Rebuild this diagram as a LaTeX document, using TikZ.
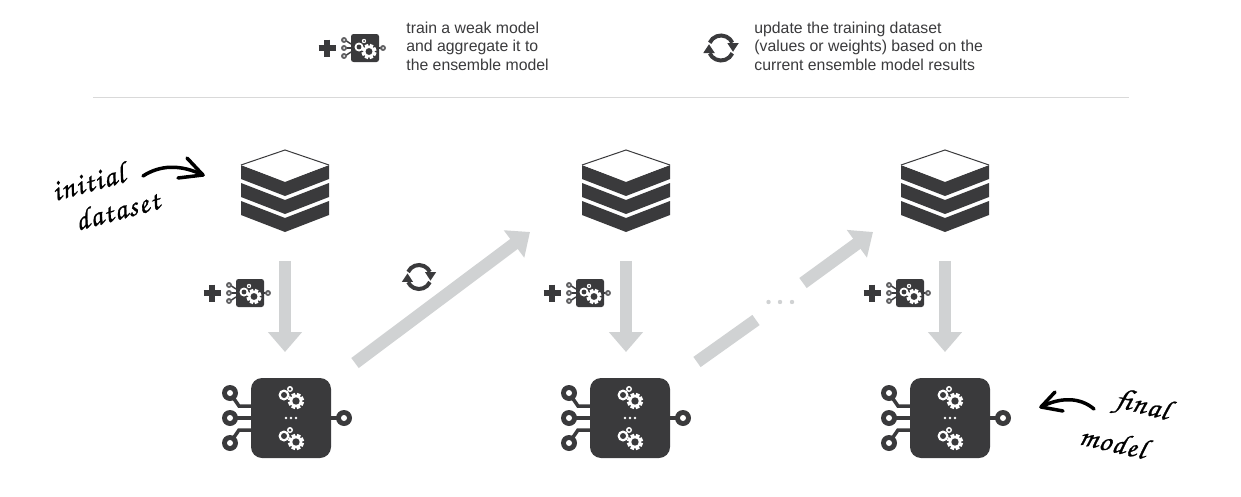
\documentclass[tikz,border=0pt]{standalone}
\usepackage{fontspec}
\setmainfont{Liberation Sans}
\newfontfamily\handfont[FakeBold=0.8,LetterSpace=5]{TeX Gyre Chorus}
\usetikzlibrary{arrows.meta}
\definecolor{darkicon}{HTML}{3A3A3C}
\definecolor{flowgray}{HTML}{D0D2D3}
\tikzset{
  flow/.style={draw=flowgray,line width=0.25cm,-{Triangle[length=0.4cm,width=0.66cm]}},
  flowplain/.style={draw=flowgray,line width=0.25cm},
  hand/.style={font=\handfont\fontsize{17}{17}\selectfont,text=black,inner sep=0pt},
  handline/.style={line width=0.07cm,line cap=round,line join=round},
  note/.style={font=\fontsize{9}{10.5}\selectfont,text=darkicon,align=left,anchor=north west,inner sep=0pt},
  spot/.style={inner sep=0pt,outer sep=0pt,minimum width=1.6cm,minimum height=1.6cm},
  pics/cog/.style={code={
    \fill[white] (0,0) circle (#1*0.76);
    \foreach \a in {0,45,...,315}
      \fill[white,rotate=\a+22] (#1*0.6,-#1*0.24) rectangle (#1,#1*0.24);
    \fill[darkicon] (0,0) circle (#1*0.46);
  }},
  pics/layer/.style={code={
    \fill[darkicon] (-44,0)--(0,17)--(44,0)--(44,14)--(0,31)--(-44,14)--cycle;
  }},
  pics/datastack/.style={code={
    \pic at (0,-25) {layer};
    \pic at (0,-7) {layer};
    \pic at (0,11) {layer};
    \fill[white] (0,-40)--(-44,-25)--(0,-9)--(44,-25)--cycle;
    \draw[darkicon,line width=0.02cm] (-44,-25)--(0,-40)--(44,-25);
  }},
  pics/bigmodel/.style={code={
    \foreach \y/\b in {-25/-12,0/0,25/12}
      \draw[darkicon,line width=0.07cm] (-61,\y)--(-52,\b)--(-40,\b);
    \draw[darkicon,line width=0.07cm] (40,0)--(50,0);
    \foreach \x/\y in {-61/-25,-61/0,-61/25,53/0}{
      \fill[darkicon] (\x,\y) circle (8);
      \fill[white] (\x,\y) circle (3);
    }
    \fill[darkicon,rounded corners=0.22cm] (-40,-40) rectangle (40,40);
    \foreach \y in {-20,21}{
      \fill[white] (-7,\y-3) circle (5.5);
      \fill[darkicon] (-7,\y-3) circle (3);
      \fill[white] (-1,\y-9) circle (3);
      \fill[darkicon] (-1,\y-9) circle (1.5);
      \pic at (5,\y+3) {cog=8};
    }
    \foreach \x in {-5,0,5}
      \fill[white] (\x,0) circle (1.4);
  }},
  pics/addmodel/.style={code={
    \draw[darkicon,line width=0.11cm] (-46.5,0)--(-29.5,0) (-38,-8.5)--(-38,8.5);
    \foreach \y/\b in {-8/-4,0/0,8/4}
      \draw[darkicon,line width=0.03cm] (-20,\y)--(-14,\b);
    \draw[darkicon,line width=0.03cm] (13,0)--(17,0);
    \foreach \x/\y in {-21/-8,-21/0,-21/8,18/0}{
      \fill[darkicon!80] (\x,\y) circle (3);
      \fill[white] (\x,\y) circle (1);
    }
    \fill[darkicon,rounded corners=0.05cm] (-14,-14) rectangle (14,14);
    \fill[white] (-6,-1) circle (4.5);
    \fill[darkicon] (-6,-1) circle (2.4);
    \fill[white] (-1,-7) circle (2.2);
    \fill[darkicon] (-1,-7) circle (1);
    \pic at (4,3.5) {cog=7.5};
  }},
  pics/syncmark/.style={code={
    \draw[darkicon,line width=0.08cm] (#1*-0.906,#1*-0.423) arc[start angle=205,end angle=335,radius=#1];
    \draw[darkicon,line width=0.08cm] (#1*0.906,#1*0.423) arc[start angle=25,end angle=155,radius=#1];
    \fill[darkicon] (#1*0.5,#1*-0.4)--(#1*1.42,#1*-0.4)--(#1*0.96,#1*0.3)--cycle;
    \fill[darkicon] (#1*-0.5,#1*0.4)--(#1*-1.42,#1*0.4)--(#1*-0.96,#1*-0.3)--cycle;
  }}
}
\begin{document}
\begin{tikzpicture}[x=0.02cm,y=-0.02cm]
\useasboundingbox (0,0) rectangle (1241,497);
% legend
\pic at (365,48) {addmodel};
\node[note] (noteA) at (406,21.5) {train a weak model\\and aggregate it to\\the ensemble model};
\pic at (721,48) {syncmark=12.5};
\node[note] (noteB) at (754,21.5) {update the training dataset\\(values or weights) based on the\\current ensemble model results};
\draw[black!15,line width=0.02cm] (93,97) -- (1129,97);

% datasets and models
\node[spot] (dataA) at (285,190) {};
\node[spot] (dataB) at (626,190) {};
\node[spot] (dataC) at (945,190) {};
\node[spot] (modelA) at (291,418) {};
\node[spot] (modelB) at (630,418) {};
\node[spot] (modelC) at (950,418) {};
\pic at (dataA) {datastack};
\pic at (dataB) {datastack};
\pic at (dataC) {datastack};
\pic at (modelA) {bigmodel};
\pic at (modelB) {bigmodel};
\pic at (modelC) {bigmodel};

% arrows
\coordinate (fromA) at (355,363);
\coordinate (toB) at (530,232);
\coordinate (fromB) at (697,362);
\coordinate (gapA) at (756,320);
\coordinate (gapB) at (803,283);
\coordinate (toC) at (873,232);
\draw[flow,shorten <=0.62cm,shorten >=0.52cm] (dataA.south) -- (dataA.center |- modelA.north);
\draw[flow,shorten <=0.62cm,shorten >=0.52cm] (dataB.south) -- (dataB.center |- modelB.north);
\draw[flow,shorten <=0.62cm,shorten >=0.52cm] (dataC.south) -- (dataC.center |- modelC.north);
\draw[flow] (fromA) -- (toB);
\draw[flowplain] (fromB) -- (gapA);
\draw[flow] (gapB) -- (toC);
\foreach \x in {768.5,780,792}
  \fill[flowgray] (\x,302) circle (2.2);

% small icons
\pic at (250,293) {addmodel};
\pic at (590,293) {addmodel};
\pic at (910,293) {addmodel};
\pic at (419,277) {syncmark=12};

% hand notes
\node[hand,rotate=15] (initial) at (88,182) {initial};
\node[hand,rotate=15] (dataset) at (117,210) {dataset};
\node[hand,rotate=-15] (final) at (1142,407) {final};
\node[hand,rotate=-13] (model) at (1113,442) {model};
\coordinate (initialEnd) at (203,175);
\coordinate (finalEnd) at (1041,407);
\draw[handline] (143,176) .. controls (160,165) and (180,164) .. (initialEnd);
\draw[handline] (187,158) -- (initialEnd) -- (178,178);
\draw[handline] (1094,409) .. controls (1080,397) and (1060,397) .. (finalEnd);
\draw[handline] (1055,392) -- (finalEnd) -- (1063,411);
\end{tikzpicture}
\end{document}
